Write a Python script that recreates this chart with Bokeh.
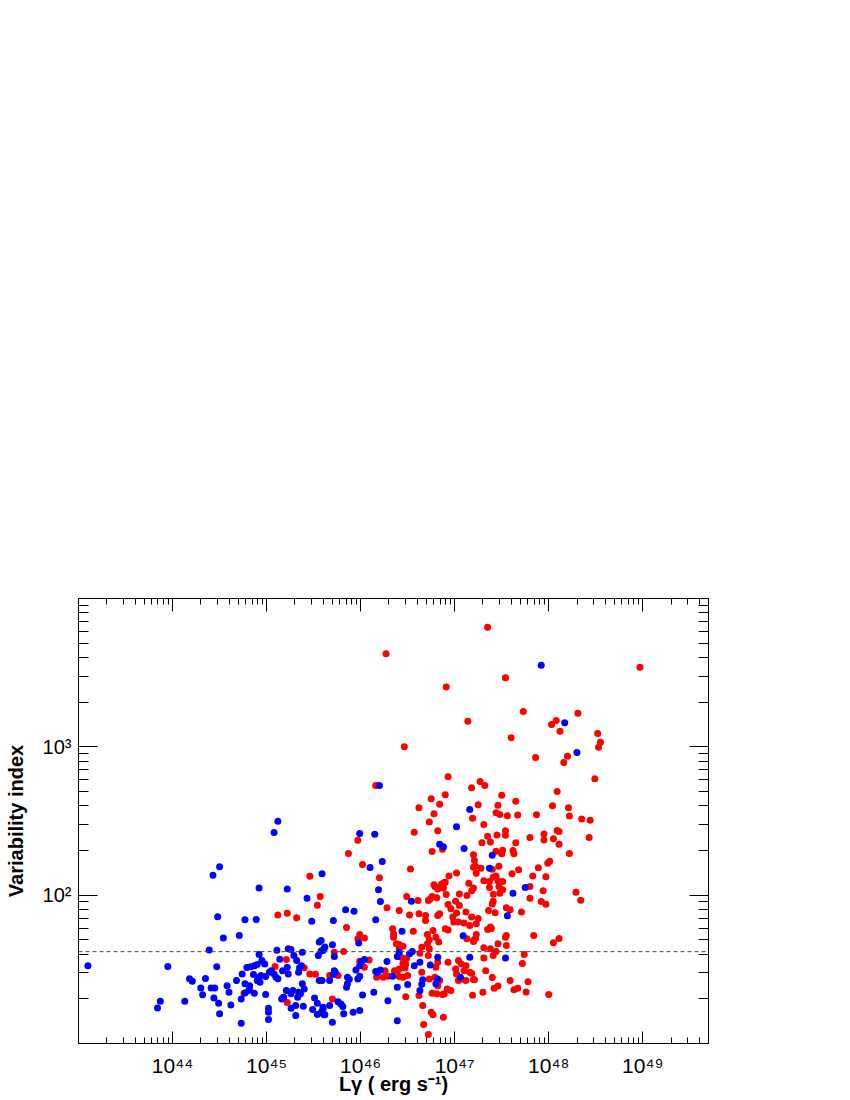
from bokeh.plotting import figure
from bokeh.models import Span, FixedTicker, LogAxis, CustomJSTickFormatter, Range1d
from bokeh.embed import file_html
from bokeh.resources import INLINE

# ---------------- data (log10 of L_gamma [erg/s], log10 of variability index) ----------------
red_log_lum = [
    46.27, 46.16, 45.97, 45.87, 46.02, 46.20, 45.46,
    47.35, 47.54, 46.91, 47.73, 47.14, 47.60, 46.465, 47.86, 48.03, 48.08, 48.12, 46.93, 47.27,
    47.32, 47.18, 46.90, 46.75, 47.50, 46.84, 47.25, 47.65, 48.09, 46.62, 47.46, 46.78, 47.44,
    47.48, 47.56, 47.67, 47.87, 48.04, 47.19, 46.73, 47.31, 46.57, 46.82, 47.45, 47.54, 47.54,
    47.35, 47.29, 47.38, 47.65, 47.80, 47.95, 47.95, 48.05, 48.09, 48.11, 46.87, 46.76, 47.20,
    47.44, 47.51, 47.50, 47.62, 47.63, 47.21, 47.22, 47.20, 47.28, 46.53, 47.47, 47.40, 47.68,
    47.89, 47.99, 48.01, 47.02, 46.94, 47.23, 47.61, 47.44, 47.41, 47.51, 47.46, 47.83, 47.97,
    47.31, 47.37, 46.78, 46.89,
    48.97, 48.31, 48.52, 48.55, 48.53, 48.20, 48.16, 48.49, 48.21, 48.22, 48.35, 48.44, 48.11,
    48.43, 48.22,
    48.29, 48.34, 47.80, 47.94, 47.80, 47.92, 47.97, 47.55, 47.59, 47.71, 47.36, 47.43, 47.41,
    47.40, 47.41, 47.48, 47.51, 47.47, 47.37, 47.25, 47.23, 47.38, 47.39, 47.35, 47.55, 47.54,
    47.55, 47.84, 48.05, 48.11, 47.22, 47.20, 47.16, 47.31, 47.38, 47.44, 47.46, 47.41, 47.31,
    47.74, 47.72, 47.33, 47.18, 47.21, 47.40, 47.59, 47.78, 47.42, 47.46, 47.63, 47.67, 47.76,
    47.30, 47.19, 48.00,
    46.79, 46.86, 46.90, 46.88, 46.82, 46.76, 46.81, 46.91, 47.05, 47.13, 47.18, 47.20, 47.15,
    46.28, 46.49, 46.61, 46.72, 46.74, 46.41, 46.52, 46.62, 46.69, 46.69, 46.82, 46.84, 47.02,
    46.98, 47.05, 47.01, 46.93, 46.96, 47.12, 47.18, 47.04, 47.10, 45.85, 45.99, 46.04, 45.97,
    46.34, 46.35, 46.35, 46.38, 46.41, 46.45, 46.41, 46.56, 46.71, 46.73, 46.71, 46.77, 46.80,
    46.83, 46.90, 46.93, 46.99, 47.13, 47.20, 47.23, 45.82, 45.72, 46.43, 46.45, 46.49, 46.47,
    46.41, 46.39, 46.48, 46.63, 46.72, 46.73, 46.65, 46.82, 46.80, 46.93, 47.04, 47.07, 47.12,
    47.10, 47.16, 47.01, 47.02, 47.04, 47.07, 47.12, 47.20, 45.99, 46.09, 46.04, 46.17, 46.24,
    46.29, 46.26, 46.36, 46.45, 46.50, 46.41, 46.65, 46.73, 46.79, 46.84, 46.82, 46.76, 46.81,
    46.87, 46.89, 46.92, 46.96, 46.48, 46.62, 46.66, 46.75, 46.77, 46.88, 46.67, 46.72, 45.70,
    45.67, 45.76,
    44.76, 44.82, 45.09, 45.21, 45.12, 45.22, 45.32, 45.18, 45.22, 45.40, 45.46, 45.52, 45.54,
    45.57,
]
red_log_var = [
    3.627, 2.739, 2.370, 2.281, 2.206, 2.117, 2.128,
    3.807, 3.465, 3.404, 3.238, 3.172, 3.062, 3.000, 2.928, 3.150, 3.178, 3.105, 2.798, 2.766,
    2.739, 2.725, 2.677, 2.650, 2.674, 2.613, 2.609, 2.633, 2.699, 2.589, 2.606, 2.549, 2.555,
    2.544, 2.535, 2.540, 2.542, 2.603, 2.518, 2.493, 2.477, 2.424, 2.434, 2.405, 2.435, 2.404,
    2.397, 2.353, 2.359, 2.354, 2.388, 2.413, 2.372, 2.380, 2.436, 2.343, 2.310, 2.294, 2.272,
    2.296, 2.303, 2.279, 2.301, 2.279, 2.233, 2.195, 2.188, 2.181, 2.177, 2.195, 2.175, 2.171,
    2.184, 2.216, 2.229, 2.150, 2.130, 2.148, 2.144, 2.130, 2.121, 2.092, 2.098, 2.130, 2.124,
    2.098, 2.092, 2.071, 2.085,
    3.537, 3.227, 3.090, 3.031, 2.997, 2.937, 2.894, 2.784, 2.590, 2.534, 2.514, 2.505, 2.430,
    2.388, 2.281,
    2.019, 1.965, 2.058, 2.029, 1.979, 1.957, 1.939, 1.915, 1.901, 1.886, 1.896, 1.881, 1.959,
    1.941, 2.006, 2.013, 2.036, 2.058, 2.051, 1.842, 1.808, 1.786, 1.775, 1.768, 1.728, 1.717,
    1.661, 1.728, 1.679, 1.708, 1.708, 1.687, 1.795, 1.645, 1.638, 1.620, 1.672, 1.593, 1.577,
    1.600, 1.539, 1.490, 1.474, 1.429, 1.445, 1.424, 1.416, 1.372, 1.388, 1.363, 1.372, 1.348,
    1.345, 1.325, 1.330,
    2.058, 2.076, 2.087, 2.049, 2.042, 1.991, 1.982, 2.004, 2.008, 1.997, 2.030, 2.049, 2.080,
    1.915, 1.991, 1.964, 1.964, 1.975, 1.896, 1.867, 1.874, 1.863, 1.829, 1.863, 1.874, 1.879,
    1.852, 1.930, 1.959, 1.937, 1.908, 1.886, 1.852, 1.819, 1.812, 1.782, 1.735, 1.711, 1.706,
    1.773, 1.739, 1.717, 1.672, 1.638, 1.656, 1.667, 1.757, 1.735, 1.699, 1.672, 1.762, 1.717,
    1.684, 1.773, 1.766, 1.819, 1.706, 1.694, 1.735, 1.620, 1.616, 1.581, 1.540, 1.574, 1.509,
    1.502, 1.491, 1.536, 1.609, 1.593, 1.638, 1.649, 1.547, 1.514, 1.547, 1.559, 1.536, 1.525,
    1.491, 1.480, 1.502, 1.469, 1.424, 1.435, 1.424, 1.431, 1.554, 1.563, 1.514, 1.446, 1.446,
    1.453, 1.491, 1.491, 1.446, 1.458, 1.451, 1.480, 1.435, 1.446, 1.424, 1.390, 1.339, 1.335,
    1.330, 1.335, 1.368, 1.357, 1.316, 1.323, 1.256, 1.211, 1.193, 1.177, 1.128, 1.060, 1.300,
    1.458, 1.458,
    1.339, 1.362, 1.519, 1.566, 1.867, 1.878, 1.847, 1.312, 1.276, 1.510, 1.469, 1.467, 1.932,
    1.991,
]

blue_log_lum = [
    46.20, 45.12, 45.08, 45.99, 46.15, 46.10, 46.23, 44.50, 44.43, 45.59,
    47.92, 47.16, 47.02, 46.84, 46.88, 47.10, 47.40, 47.37,
    48.17, 48.30,
    47.75, 47.62, 47.56, 47.54, 47.16,
    46.19, 46.21, 46.54, 45.84, 45.93, 45.71, 46.16, 45.98, 46.44, 47.09, 45.56, 45.62, 45.58,
    45.72, 45.70, 46.41, 46.39, 46.55, 46.52, 46.63, 46.57, 46.74, 46.82, 47.06, 46.01, 46.04,
    45.99, 45.95, 46.16, 46.21, 46.18, 46.28, 46.34, 46.66, 46.65, 46.63, 46.80, 46.82, 46.39,
    46.50, 46.29, 46.39, 46.02, 46.14, 45.76, 45.79, 45.81, 45.67, 45.60, 45.58, 45.62, 45.82,
    45.92, 45.99, 45.70, 45.56, 45.67, 45.86, 45.88, 45.86, 45.85, 45.97, 45.99, 45.72, 45.73,
    45.71,
    43.10, 43.84, 43.87, 43.95, 44.13, 44.18, 44.21, 44.35, 44.30, 44.32, 44.41, 44.45, 44.44,
    44.49, 44.50, 44.39, 44.47, 44.48, 44.54, 44.58, 44.60, 44.62, 44.68, 44.71, 44.73, 44.73,
    44.74, 44.77, 44.77, 44.82, 44.77, 44.81, 44.79, 44.83, 44.87, 44.86, 44.90, 44.92, 44.95,
    44.98, 44.89, 44.92, 44.87, 44.92, 44.90, 44.94, 44.93, 44.99, 45.02, 45.02, 45.02, 44.99,
    45.03, 45.05, 45.08, 45.10, 45.12, 45.11, 45.14, 45.22, 45.23, 45.26, 45.22, 45.23, 45.17,
    45.21, 45.16, 45.18, 45.26, 45.28, 45.26, 45.31, 45.31, 45.33, 45.34, 45.32, 45.29, 45.38,
    45.34, 45.35, 45.37, 45.38, 45.40, 45.36, 45.39, 45.49, 45.51, 45.54, 45.54, 45.60, 45.61,
    45.43, 45.48, 45.58, 45.61, 45.60, 45.55, 45.59,
]
blue_log_var = [
    2.739, 2.498, 2.422, 2.415, 2.411, 2.186, 2.227, 2.191, 2.134, 2.144,
    3.550, 2.578, 2.462, 2.343, 2.326, 2.314, 2.269, 2.181,
    3.162, 2.961,
    2.051, 2.013, 1.862, 1.577, 1.581,
    2.036, 1.957, 1.959, 1.901, 1.892, 1.829, 1.834, 1.677, 1.757, 1.727, 1.684, 1.650, 1.623,
    1.586, 1.665, 1.616, 1.586, 1.620, 1.605, 1.547, 1.525, 1.530, 1.581, 1.446, 1.552, 1.566,
    1.525, 1.496, 1.486, 1.496, 1.478, 1.552, 1.453, 1.429, 1.399, 1.357, 1.402, 1.435, 1.379,
    1.397, 1.289, 1.153, 1.327, 1.345, 1.282, 1.267, 1.249, 1.256, 1.244, 1.211, 1.193, 1.200,
    1.211, 1.222, 1.144, 1.424, 1.424, 1.446, 1.433, 1.402, 1.379, 1.435, 1.453, 1.491, 1.480,
    1.465,
    1.525, 1.240, 1.285, 1.519, 1.285, 1.436, 1.420, 1.438, 1.375, 1.328, 1.375, 1.375, 1.307,
    1.271, 1.200, 1.630, 1.517, 1.854, 1.712, 1.390, 1.345, 1.260, 1.424, 1.728, 1.300, 1.137,
    1.469, 1.834, 1.402, 1.390, 1.341, 1.357, 1.512, 1.517, 1.525, 1.465, 1.532, 1.600, 1.559,
    1.536, 1.836, 2.049, 1.339, 1.446, 1.424, 1.458, 1.413, 1.330, 1.237, 1.211, 1.162, 1.451,
    1.480, 1.491, 1.469, 1.446, 1.436, 1.628, 1.568, 2.042, 1.638, 1.633, 1.514, 1.469, 1.491,
    1.357, 1.300, 1.312, 1.335, 1.357, 1.237, 1.256, 1.188, 1.312, 1.345, 1.559, 1.593, 1.616,
    1.480, 1.510, 1.525, 1.402, 1.368, 1.335, 1.251, 1.229, 1.307, 1.271, 1.195, 1.233, 1.193,
    1.979, 1.825, 1.694, 1.638, 1.627, 1.593, 1.424,
]

x_tick_exponents = [44, 45, 46, 47, 48, 49]
y_tick_exponents = [2, 3]
variability_threshold = 41.6
x_label = "L\u03b3 ( erg s\u207b\u00b9)"
y_label = "Variability index"

# ---------------- figure ----------------
FONT = "Liberation Sans"
X_MIN, X_MAX = 1e43, 5e49
Y_MIN, Y_MAX = 1e1, 1e4

p = figure(
    x_axis_type="log", y_axis_type="log",
    x_range=Range1d(X_MIN, X_MAX), y_range=Range1d(Y_MIN, Y_MAX),
    frame_width=630, frame_height=445,
    min_border_left=78, min_border_right=130, min_border_top=598, min_border_bottom=56,
    output_backend="svg", toolbar_location=None,
)
p.grid.visible = False
p.outline_line_color = "black"
p.outline_line_width = 1
p.background_fill_color = "white"
p.border_fill_color = "white"

x_major = [10.0 ** e for e in range(43, 50)]
x_minor = [k * 10.0 ** e for e in range(43, 50) for k in range(2, 10) if k * 10.0 ** e < X_MAX]
y_major = [10.0 ** e for e in range(1, 5)]
y_minor = [k * 10.0 ** e for e in range(1, 4) for k in range(2, 10)]

SUP_JS = """
const sup = {'0':'\u2070','1':'\u00b9','2':'\u00b2','3':'\u00b3','4':'\u2074',
             '5':'\u2075','6':'\u2076','7':'\u2077','8':'\u2078','9':'\u2079','-':'\u207b'};
const e = Math.round(Math.log10(tick));
if (!show.includes(e)) { return ''; }
return '10' + String(e).split('').map(c => sup[c]).join('');
"""


def style_axis(ax, ticker, maj, mnr, shown, label_size):
    ax.ticker = ticker
    ax.formatter = CustomJSTickFormatter(code=SUP_JS, args=dict(show=shown))
    ax.major_tick_in = maj
    ax.major_tick_out = 0
    ax.minor_tick_in = mnr
    ax.minor_tick_out = 0
    ax.axis_line_color = "black"
    ax.major_tick_line_color = "black"
    ax.minor_tick_line_color = "black"
    ax.major_label_text_font = FONT
    ax.major_label_text_font_size = label_size
    ax.major_label_text_color = "black"
    ax.axis_label_text_font = FONT
    ax.axis_label_text_font_size = "20px"
    ax.axis_label_text_font_style = "bold"
    ax.axis_label_text_color = "black"


xax = p.xaxis[0]
style_axis(xax, FixedTicker(ticks=x_major, minor_ticks=x_minor), 12, 6, x_tick_exponents, "21px")
xax.major_label_standoff = 10
xax.axis_label = x_label
xax.axis_label_standoff = -7

yax = p.yaxis[0]
style_axis(yax, FixedTicker(ticks=y_major, minor_ticks=y_minor), 19, 10, y_tick_exponents, "20px")
yax.major_label_standoff = 7
yax.axis_label = y_label
yax.axis_label_standoff = 13

top = LogAxis()
style_axis(top, FixedTicker(ticks=x_major, minor_ticks=x_minor), 13, 6, [], "1px")
top.major_label_standoff = 0
p.add_layout(top, "above")
right = LogAxis()
style_axis(right, FixedTicker(ticks=y_major, minor_ticks=y_minor), 19, 10, [], "1px")
right.major_label_standoff = 0
p.add_layout(right, "right")

# threshold line
p.add_layout(Span(location=variability_threshold, dimension="width",
                  line_color="#444444", line_dash="4 3", line_width=1))

# points
p.scatter([10.0 ** v for v in red_log_lum], [10.0 ** v for v in red_log_var],
          size=7, fill_color="#ff0000", line_color=None)
p.scatter([10.0 ** v for v in blue_log_lum], [10.0 ** v for v in blue_log_var],
          size=7, fill_color="#0000ff", line_color=None)

open("out.html", "w").write(file_html(p, INLINE))
